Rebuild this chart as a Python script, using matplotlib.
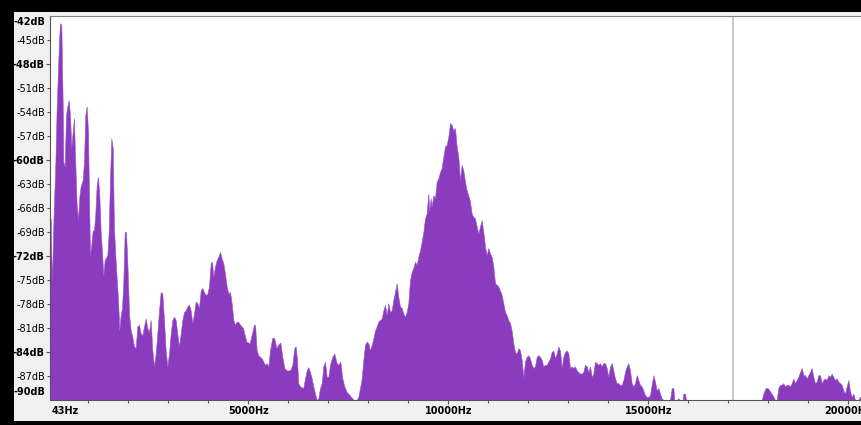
import numpy as np
import matplotlib
matplotlib.use("Agg")
import matplotlib.pyplot as plt
from matplotlib.patches import Rectangle

# spectrum, frequency in Hz and level in dB
bass_hz = [43, 60, 76, 93, 130, 176, 210, 243, 268, 293, 326, 343, 360, 376, 410,
           443, 476, 510, 543, 576, 610, 643, 660, 710, 743, 776, 810, 860, 893,
           926, 960, 993, 1026, 1043, 1076, 1110, 1143, 1176, 1210, 1243, 1276,
           1310, 1343, 1376, 1410, 1476, 1510, 1543, 1576, 1610, 1643, 1676, 1710,
           1743, 1776, 1810, 1843, 1876, 1910, 1943, 1976, 2010]
bass_db = [-67.3, -67.3, -72.0, -75.0, -67.3, -60.6, -53.3, -48.8, -45.2, -42.9,
           -43.1, -48.1, -52.9, -60.2, -60.8, -54.4, -53.3, -52.5, -54.4, -58.5,
           -56.5, -54.8, -58.1, -65.6, -67.5, -64.6, -63.3, -62.5, -60.2, -54.4,
           -53.3, -56.5, -66.9, -71.9, -70.6, -68.8, -68.8, -66.7, -63.1, -62.1,
           -64.4, -69.0, -71.5, -74.4, -72.5, -71.9, -69.0, -62.3, -57.3, -58.5,
           -68.5, -71.9, -74.8, -77.3, -81.3, -79.4, -78.5, -75.2, -69.0, -69.0,
           -72.7, -77.7]

lowmid_hz = [2018, 2060, 2101, 2143, 2185, 2226, 2268, 2310, 2351, 2393, 2435, 2476,
             2518, 2560, 2601, 2643, 2685, 2726, 2768, 2810, 2851, 2893, 2935, 2976,
             3018, 3060, 3101, 3143, 3185, 3226, 3268, 3310, 3351, 3393, 3435, 3476,
             3518, 3560, 3601, 3643, 3685, 3726, 3768, 3810, 3851, 3893, 3935, 3976,
             4018, 4060, 4093, 4126, 4168, 4210, 4251, 4293, 4335, 4376, 4418, 4460,
             4501, 4543, 4585, 4626, 4668, 4710, 4743, 4800, 4868, 4951, 5035, 5143,
             5170]
lowmid_db = [-79.2, -81.3, -82.1, -83.3, -83.5, -80.8, -80.6, -81.7, -81.9, -80.8,
             -79.8, -81.0, -81.5, -80.0, -83.8, -85.8, -84.2, -81.7, -78.8, -76.5,
             -76.7, -80.0, -83.8, -85.8, -84.2, -81.7, -80.0, -79.6, -80.0, -81.7,
             -83.3, -81.7, -80.0, -79.0, -78.8, -78.3, -78.1, -78.8, -80.4, -79.2,
             -77.7, -77.9, -78.5, -76.3, -76.0, -76.5, -76.9, -76.7, -75.8, -72.9,
             -72.7, -74.6, -73.3, -72.5, -72.1, -71.5, -72.3, -72.9, -74.2, -75.8,
             -76.7, -76.5, -77.9, -80.0, -80.6, -80.2, -80.2, -80.6, -81.0, -82.7,
             -82.9, -80.6, -80.6]

mid_hz = [5210, 5251, 5335, 5418, 5460, 5501, 5543, 5601, 5651, 5701, 5751, 5801,
          5851, 5901, 5960, 6043, 6101, 6151, 6185, 6218, 6251, 6293, 6376, 6418,
          6460, 6501, 6543, 6585, 6626, 6668, 6710, 6751, 6793, 6835, 6876, 6918,
          6960, 7001, 7043, 7101, 7151, 7210, 7251, 7301, 7351, 7401, 7460, 7518,
          7568, 7601, 7635, 7710, 7751, 7793, 7835, 7876, 7918, 7960, 8001, 8043,
          8085, 8126, 8168, 8210, 8251, 8293, 8335, 8376, 8418]
mid_db = [-83.8, -84.4, -84.8, -85.6, -85.4, -85.8, -83.8, -82.2, -82.3, -83.5,
          -83.1, -82.8, -84.6, -86.0, -86.3, -86.3, -85.6, -83.5, -83.3, -85.0,
          -87.9, -88.3, -88.5, -87.3, -86.3, -85.9, -86.5, -87.3, -88.3, -89.2,
          -90.0, -89.8, -88.5, -87.9, -85.8, -85.2, -87.1, -87.1, -85.6, -84.6,
          -84.2, -85.4, -85.6, -85.2, -87.3, -88.3, -89.0, -89.3, -89.6, -89.8,
          -90.0, -90.0, -89.6, -88.5, -87.3, -85.0, -83.1, -82.7, -82.9, -83.8,
          -83.1, -82.3, -81.3, -80.8, -80.2, -80.0, -79.8, -78.8, -78.1]

formant_hz = [8460, 8501, 8543, 8585, 8626, 8668, 8710, 8751, 8793, 8835, 8876, 8918,
              8960, 9001, 9043, 9085, 9126, 9168, 9210, 9251, 9293, 9335, 9376, 9418,
              9460, 9501, 9526, 9560, 9585, 9626, 9668, 9710, 9751, 9793, 9835, 9876,
              9918, 9960, 10001, 10043, 10085, 10126, 10168, 10210, 10251, 10293,
              10335, 10376, 10418, 10460, 10501, 10543, 10585, 10626, 10668, 10710,
              10751, 10793, 10835, 10876, 10918, 10960, 11001, 11043, 11085, 11126,
              11168, 11210, 11251, 11293, 11335, 11376, 11418, 11460, 11501, 11543,
              11585, 11626]
formant_db = [-79.4, -77.9, -79.0, -78.8, -77.5, -76.5, -75.4, -77.1, -78.3, -78.5,
              -79.2, -79.6, -79.0, -77.9, -75.0, -74.0, -73.5, -72.7, -73.1, -72.1,
              -71.3, -70.2, -69.0, -67.3, -66.7, -64.2, -66.3, -64.8, -65.8, -64.4,
              -64.8, -62.7, -62.3, -61.5, -61.0, -59.6, -58.3, -58.1, -57.1, -55.4,
              -55.6, -56.3, -56.0, -58.3, -59.6, -62.5, -60.6, -61.3, -62.7, -63.8,
              -64.4, -65.2, -66.7, -67.1, -67.3, -68.3, -69.2, -68.3, -67.5, -69.0,
              -70.8, -71.9, -71.0, -71.7, -72.1, -73.3, -75.4, -75.6, -75.8, -76.3,
              -76.9, -77.9, -79.0, -79.4, -80.0, -80.4, -81.3, -82.9]

high_hz = [11668, 11710, 11751, 11793, 11835, 11876, 11918, 11960, 12001, 12043,
           12085, 12126, 12168, 12210, 12251, 12293, 12335, 12376, 12418, 12460,
           12501, 12543, 12585, 12626, 12668, 12710, 12751, 12793, 12835, 12876,
           12918, 12960, 13001, 13043, 13085, 13126, 13168, 13210, 13251, 13293,
           13335, 13376, 13418, 13460, 13501, 13543, 13585, 13626, 13668, 13710,
           13751, 13793, 13835, 13876, 13918, 13960, 14001, 14043, 14085, 14126,
           14168, 14210, 14251, 14293, 14335, 14376, 14418, 14460, 14501, 14543,
           14585, 14626, 14668, 14710, 14751, 14793, 14835, 14876, 14918, 14960,
           15001, 15043, 15085, 15126, 15168, 15210, 15251, 15293, 15335, 15376,
           15543, 15585, 15626, 15651, 15710, 15751, 15793, 15860, 15876, 15918,
           15943, 17835, 17876, 17935, 17985, 18043, 18110, 18168, 18210, 18251,
           18293, 18335, 18376, 18418, 18460, 18501, 18543, 18585, 18626, 18668,
           18710, 18751, 18793, 18835, 18876, 18918, 18960, 19001, 19043, 19085,
           19126, 19168, 19210, 19251, 19293, 19335, 19376, 19418, 19460, 19501,
           19543, 19585, 19626, 19668, 19710, 19751, 19793, 19835, 19876, 19918,
           19960, 20001, 20043, 20085, 20126, 20168, 20251, 20293, 20343, 20443]
high_db = [-84.0, -84.2, -83.5, -83.8, -85.0, -87.1, -85.2, -84.6, -84.4, -84.8,
           -85.6, -86.0, -85.8, -84.6, -84.4, -84.6, -85.0, -85.8, -85.6, -85.6,
           -85.2, -84.8, -84.0, -83.8, -84.8, -84.2, -83.3, -83.8, -86.0, -84.6,
           -84.0, -83.8, -84.2, -86.0, -85.8, -86.0, -85.8, -86.3, -86.5, -86.7,
           -86.7, -86.5, -85.6, -85.8, -86.5, -85.8, -87.1, -86.7, -85.2, -85.4,
           -85.6, -85.4, -85.8, -85.4, -85.4, -86.0, -87.1, -85.8, -85.4, -86.3,
           -87.3, -87.9, -87.9, -88.1, -88.1, -87.5, -86.5, -85.8, -85.4, -86.3,
           -87.9, -88.3, -87.9, -86.9, -87.5, -88.1, -88.3, -88.8, -89.4, -89.6,
           -89.6, -89.4, -88.1, -86.9, -87.7, -88.8, -88.5, -89.2, -89.8, -90.0,
           -90.0, -88.5, -88.5, -90.0, -90.0, -89.8, -90.0, -90.0, -89.2, -89.2,
           -90.0, -90.0, -89.2, -88.5, -88.5, -88.9, -89.4, -90.0, -90.0, -88.5,
           -88.1, -88.1, -87.9, -88.3, -88.1, -88.1, -88.3, -87.9, -87.3, -87.9,
           -87.5, -87.1, -86.5, -86.0, -86.9, -86.9, -87.3, -86.9, -86.5, -86.0,
           -87.1, -87.9, -87.7, -86.9, -86.9, -87.9, -87.5, -87.3, -87.5, -86.9,
           -87.1, -86.7, -87.1, -87.5, -87.3, -87.7, -87.9, -88.1, -88.8, -89.2,
           -88.3, -87.5, -88.9, -89.6, -89.2, -90.0, -90.0, -89.6, -89.8, -90.0]

y_major = [-48, -60, -72, -84]
y_minor = [-45, -51, -54, -57, -63, -66, -69, -75, -78, -81, -87]
x_major = [5000, 10000, 15000, 20000]
x_minor = [1000, 2000, 3000, 4000, 6000, 7000, 8000, 9000, 11000, 12000, 13000,
           14000, 16000, 17000, 18000, 19000]
marker_hz = 17118

freq_hz = np.array(bass_hz + lowmid_hz + mid_hz + formant_hz + high_hz)
level_db = np.array(bass_db + lowmid_db + mid_db + formant_db + high_db)

plt.rcParams['font.family'] = ['DejaVu Sans']
W, H = 862, 425
fig = plt.figure(figsize=(W / 100, H / 100), dpi=100, facecolor='black')
# light grey window panel behind the plot
fig.patches.append(Rectangle((14 / W, 4 / H), 848 / W, 409 / H,
                             transform=fig.transFigure, facecolor='#f0f0f0',
                             edgecolor='none', zorder=-10))

ax = fig.add_axes([50 / W, 25 / H, 816 / W, 384 / H])
ax.set_zorder(5)
ax.set_facecolor('white')
ax.fill_between(freq_hz, level_db, -90, color='#8a3bbe', linewidth=0.4,
                edgecolor='#9a55c8')
ax.axvline(marker_hz, color='#c8c8c8', linewidth=1.4)

ax.set_xlim(43, 20443)
ax.set_ylim(-90, -42)

for s in ['left', 'bottom']:
    ax.spines[s].set_color('#555555')
ax.spines['top'].set_color('#808080')
ax.spines['right'].set_visible(False)

ax.set_yticks(y_major, [f'{v}dB' for v in y_major], fontweight='bold')
ax.set_yticks(y_minor, [f'{v}dB' for v in y_minor], minor=True)
ax.set_xticks(x_major, [f'{v}Hz' for v in x_major], fontweight='bold')
ax.set_xticks(x_minor, minor=True)
ax.tick_params(axis='y', which='major', length=3.2, width=0.8, pad=0.6,
               labelsize=7, color='#555555')
ax.tick_params(axis='y', which='minor', length=2.0, width=0.8, pad=1.6,
               labelsize=7, color='#555555')
ax.tick_params(axis='x', which='major', length=3, width=0.8, pad=1.6,
               labelsize=7, color='#555555')
ax.tick_params(axis='x', which='minor', length=2.2, width=0.8, color='#555555')

ax.text(-0.0062, 0.984, '-42dB', transform=ax.transAxes, ha='right',
        va='center', fontsize=7, fontweight='bold')
ax.text(-0.0062, 0.021, '-90dB', transform=ax.transAxes, ha='right',
        va='center', fontsize=7, fontweight='bold')
ax.text(0.0025, -0.0165, '43Hz', transform=ax.transAxes, ha='left',
        va='top', fontsize=7, fontweight='bold')

fig.savefig('out.png', dpi=100, facecolor='black')
